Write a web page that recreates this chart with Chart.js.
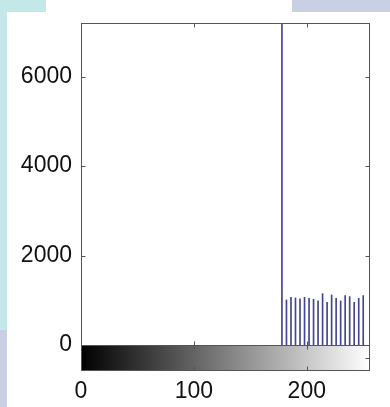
<!DOCTYPE html>
<html>
<head>
<meta charset="utf-8">
<title>Histogram</title>
<script src="https://cdn.jsdelivr.net/npm/chart.js@4.4.0/dist/chart.umd.min.js"></script>
<style>
  html, body { margin: 0; padding: 0; background: #fff; }
  #wrap { position: relative; width: 390px; height: 407px; overflow: hidden; background: #fff; }
  .band { position: absolute; }
  #histChart { position: absolute; left: 0; top: 0; }
</style>
</head>
<body>
<div id="wrap">
  <div class="band" style="left:0;top:0;width:46px;height:12px;background:#c4e8e8"></div>
  <div class="band" style="left:0;top:0;width:7px;height:330px;background:#c4e8e8"></div>
  <div class="band" style="left:0;top:330px;width:7px;height:77px;background:#c9d0e4"></div>
  <div class="band" style="left:292px;top:0;width:98px;height:12px;background:#c9d0e4"></div>
  <canvas id="histChart" width="390" height="407"></canvas>
</div>
<script>
// gray levels that have pixels, and how many
const grayLevels = [178, 182, 186, 190, 194, 198, 202, 206, 210, 214, 218, 222, 226, 230, 234, 238, 242, 246, 250];
const pixelCounts = [7800, 1007, 1067, 1052, 1030, 1067, 1045, 1022, 985, 1148, 955, 1119, 1045, 985, 1104, 1082, 955, 1045, 1104];

// tick labels
const xTicks = [0, 100, 200];
const yTicks = [0, 2000, 4000, 6000];

const stemColor = '#44448e';
const frameColor = '#555';
const labelFont = { family: '"Liberation Sans", Arial, sans-serif', size: 23 };
const colorbarHeight = 25;
const tickLen = 4;

// box, inward ticks and the gray colorbar under the axes
const axisFrame = {
    id: 'axisFrame',
    afterDraw(chart) {
        const { ctx, chartArea: a, scales: { x, y } } = chart;
        const L = Math.round(a.left) + 0.5;
        const R = Math.round(a.right) - 0.5;
        const T = Math.round(a.top) + 0.5;
        const B = Math.round(a.bottom) + 0.5;
        const CB = B + colorbarHeight;

        ctx.save();
        // colorbar
        const grad = ctx.createLinearGradient(x.getPixelForValue(0), 0, a.right, 0);
        grad.addColorStop(0, '#000');
        grad.addColorStop(1, '#fff');
        ctx.fillStyle = grad;
        ctx.fillRect(L, B, R - L, colorbarHeight);

        ctx.strokeStyle = frameColor;
        ctx.lineWidth = 1;
        ctx.strokeRect(L, T, R - L, B - T);
        ctx.strokeRect(L, B, R - L, colorbarHeight);

        ctx.beginPath();
        yTicks.forEach(v => {
            const py = Math.round(y.getPixelForValue(v)) + 0.5;
            ctx.moveTo(L, py); ctx.lineTo(L + tickLen, py);
            ctx.moveTo(R, py); ctx.lineTo(R - tickLen, py);
        });
        xTicks.forEach(v => {
            if (v === 0) return;
            const px = Math.round(x.getPixelForValue(v)) + 0.5;
            ctx.moveTo(px, T); ctx.lineTo(px, T + tickLen);
            ctx.moveTo(px, B); ctx.lineTo(px, B - tickLen);
            ctx.moveTo(px, B); ctx.lineTo(px, B + tickLen);
            ctx.moveTo(px, CB); ctx.lineTo(px, CB - tickLen);
        });
        const midCb = Math.round(B + colorbarHeight / 2) + 0.5;
        ctx.moveTo(R, midCb); ctx.lineTo(R - tickLen, midCb);
        ctx.stroke();
        ctx.restore();
    }
};

new Chart(document.getElementById('histChart'), {
    type: 'bar',
    data: {
        datasets: [{
            data: grayLevels.map((g, i) => ({ x: g, y: pixelCounts[i] })),
            backgroundColor: stemColor,
            borderWidth: 0,
            barThickness: 1
        }]
    },
    options: {
        responsive: false,
        animation: false,
        layout: { padding: { top: 23, right: 20, left: 0, bottom: 0 } },
        plugins: { legend: { display: false }, tooltip: { enabled: false } },
        scales: {
            x: {
                type: 'linear',
                offset: false,
                min: 0,
                max: 256,
                afterBuildTicks: s => { s.ticks = xTicks.map(v => ({ value: v })); },
                afterFit: s => { s.height = 62; },
                grid: { display: false, drawTicks: false, offset: false },
                border: { display: false },
                ticks: { color: '#111', font: labelFont, padding: 33, maxRotation: 0, callback: v => String(v) }
            },
            y: {
                min: 0,
                max: 7200,
                afterBuildTicks: s => { s.ticks = yTicks.map(v => ({ value: v })); },
                afterFit: s => { s.width = 81; },
                grid: { display: false, drawTicks: false },
                border: { display: false },
                ticks: { color: '#111', font: labelFont, padding: 9, callback: v => String(v) }
            }
        }
    },
    plugins: [axisFrame]
});
</script>
</body>
</html>
